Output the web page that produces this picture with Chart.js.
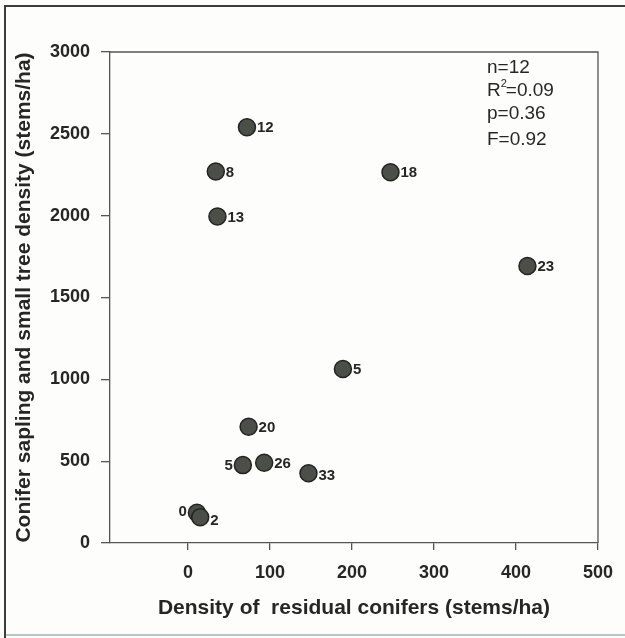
<!DOCTYPE html>
<html>
<head>
<meta charset="utf-8">
<script src="https://cdn.jsdelivr.net/npm/chart.js@4"></script>
<style>
  html, body { margin: 0; padding: 0; background: #fdfdfb; }
  #wrap { width: 625px; height: 638px; position: relative; }
</style>
</head>
<body>
<div id="wrap"><canvas id="c" width="625" height="638"></canvas></div>
<script>
// Residual conifer density vs. conifer sapling / small tree density, one point per site
const siteLabels = ['12', '8', '13', '18', '23', '5', '20', '5', '26', '33', '0', '2'];
const residualDensity = [72, 34, 36, 247, 414, 189, 74, 67, 93, 147, 11, 15];
const saplingDensity = [2540, 2270, 1995, 2265, 1692, 1063, 710, 476, 490, 426, 185, 157];
const xTickValues = [0, 100, 200, 300, 400, 500];
const statLines = ['n=12', 'R2=0.09', 'p=0.36', 'F=0.92'];

const FONT = '"Liberation Sans", Arial, Helvetica, sans-serif';
const INK = '#262624';

const points = residualDensity.map((x, i) => ({ x, y: saplingDensity[i] }));

// background, outer frame, box lines, point labels and the statistics block
const decorations = {
  id: 'decorations',
  beforeDraw(chart) {
    const ctx = chart.ctx;
    ctx.save();
    ctx.fillStyle = '#fdfdfb';
    ctx.fillRect(0, 0, chart.width, chart.height);
    ctx.strokeStyle = '#3a3d3a';
    ctx.lineWidth = 2;
    ctx.beginPath();
    ctx.moveTo(5, chart.height);
    ctx.lineTo(5, 6);
    ctx.lineTo(chart.width, 6);
    ctx.stroke();
    ctx.strokeStyle = '#b9c6c4';
    ctx.lineWidth = 2;
    ctx.beginPath();
    ctx.moveTo(6, 635);
    ctx.lineTo(chart.width, 635);
    ctx.stroke();
    ctx.restore();
  },
  afterDatasetsDraw(chart) {
    const ctx = chart.ctx;
    const a = chart.chartArea;
    ctx.save();
    // top and right edges of the plot box
    ctx.strokeStyle = '#555';
    ctx.lineWidth = 1.3;
    ctx.beginPath();
    ctx.moveTo(a.left, a.top);
    ctx.lineTo(a.right, a.top);
    ctx.lineTo(a.right, a.bottom);
    ctx.stroke();

    // site labels beside each marker
    const meta = chart.getDatasetMeta(0);
    ctx.fillStyle = INK;
    ctx.font = 'bold 15px ' + FONT;
    ctx.textBaseline = 'middle';
    meta.data.forEach((el, i) => {
      const lab = siteLabels[i];
      let dx = 10, dy = 1, align = 'left';
      if (i === 10 || i === 7) { dx = -10; align = 'right'; dy = i === 10 ? -1 : 1; }
      if (i === 11) { dy = 4; }
      if (i === 9) { dy = 3; }
      ctx.textAlign = align;
      ctx.fillText(lab, el.x + dx, el.y + dy);
    });

    // regression statistics
    ctx.textAlign = 'left';
    ctx.textBaseline = 'middle';
    const ys = [68, 91, 114, 140];
    statLines.forEach((line, i) => {
      const x = 487;
      ctx.font = '19px ' + FONT;
      if (line.startsWith('R2')) {
        ctx.fillText('R', x, ys[i]);
        const w = ctx.measureText('R').width;
        ctx.font = '11px ' + FONT;
        ctx.fillText('2', x + w, ys[i] - 7);
        const w2 = ctx.measureText('2').width;
        ctx.font = '19px ' + FONT;
        ctx.fillText(line.slice(2), x + w + w2 - 1, ys[i]);
      } else {
        ctx.fillText(line, x, ys[i]);
      }
    });
    ctx.restore();
  }
};

new Chart(document.getElementById('c'), {
  type: 'scatter',
  data: {
    datasets: [{
      data: points,
      pointRadius: 8.5,
      pointHoverRadius: 8.5,
      pointBackgroundColor: '#4b4f47',
      pointBorderColor: '#232321',
      pointBorderWidth: 1.5
    }]
  },
  options: {
    responsive: false,
    animation: false,
    events: [],
    layout: { padding: { left: 5, top: 52, right: 27, bottom: 8 } },
    plugins: { legend: { display: false }, tooltip: { enabled: false } },
    scales: {
      x: {
        type: 'linear',
        min: -95,
        max: 500,
        afterBuildTicks(scale) { scale.ticks = xTickValues.map(v => ({ value: v })); },
        afterFit(scale) { scale.height = 87; },
        border: { display: true, color: '#555', width: 1.3 },
        grid: { drawOnChartArea: false, drawTicks: true, tickLength: 7, color: '#555', lineWidth: 1.3 },
        ticks: {
          autoSkip: false, maxRotation: 0, padding: 12,
          color: INK,
          callback: v => String(v),
          font: { family: FONT, size: 18, weight: 'bold' }
        },
        title: {
          display: true,
          text: 'Density of  residual conifers (stems/ha)',
          color: INK,
          font: { family: FONT, size: 21, weight: 'bold' },
          padding: { top: 0, bottom: 9 }
        }
      },
      y: {
        type: 'linear',
        min: 0,
        max: 3000,
        afterFit(scale) { scale.width = 105; },
        border: { display: true, color: '#555', width: 1.3 },
        grid: { drawOnChartArea: false, drawTicks: true, tickLength: 9, color: '#555', lineWidth: 1.3 },
        ticks: {
          stepSize: 500, padding: 11,
          color: INK,
          callback: v => String(v),
          font: { family: FONT, size: 18, weight: 'bold' }
        },
        title: {
          display: true,
          text: 'Conifer sapling and small tree density (stems/ha)',
          color: INK,
          font: { family: FONT, size: 21, weight: 'bold' },
          padding: { top: 7, bottom: 0 }
        }
      }
    }
  },
  plugins: [decorations]
});
</script>
</body>
</html>
